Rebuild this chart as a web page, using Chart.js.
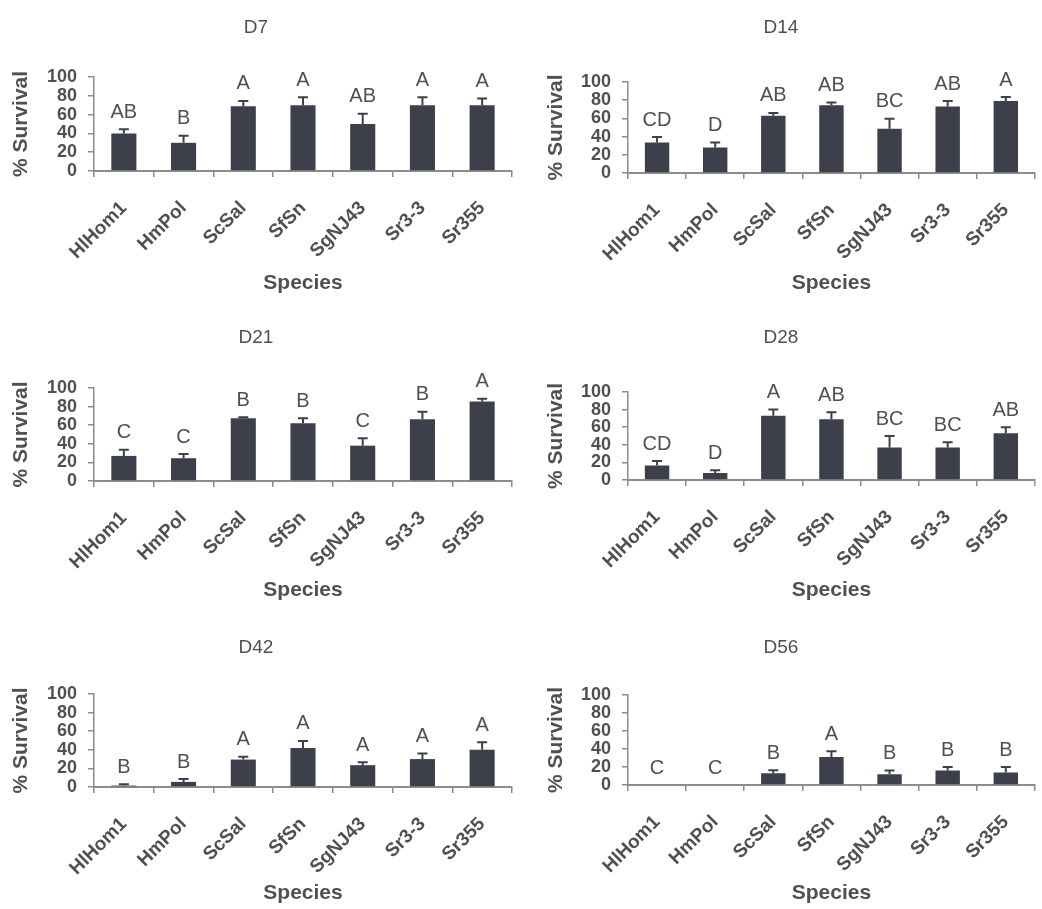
<!DOCTYPE html>
<html>
<head>
<meta charset="utf-8">
<title>% Survival by species</title>
<script src="https://cdn.jsdelivr.net/npm/chart.js@4.4.1/dist/chart.umd.min.js"></script>
<style>
    body { margin: 0; background: #fff; }
    #wrap { position: relative; width: 1042px; height: 909px; overflow: hidden; }
    #wrap canvas { position: absolute; }
</style>
</head>
<body>
<div id="wrap"></div>
<script>
// data
const species = ['HlHom1', 'HmPol', 'ScSal', 'SfSn', 'SgNJ43', 'Sr3-3', 'Sr355'];
const yTicks = [0, 20, 40, 60, 80, 100];
const days = ['D7', 'D14', 'D21', 'D28', 'D42', 'D56'];

const d7Mean = [40, 30, 69, 70, 50, 70, 70];
const d7Err = [4.5, 7.5, 5.5, 8.5, 11, 8.5, 7];
const d7Groups = ['AB', 'B', 'A', 'A', 'AB', 'A', 'A'];

const d14Mean = [33.5, 28, 63, 74.5, 48.5, 73, 79];
const d14Err = [6, 5.5, 3, 3, 11, 6, 4.5];
const d14Groups = ['CD', 'D', 'AB', 'AB', 'BC', 'AB', 'A'];

const d21Mean = [27, 24.5, 67.5, 62, 38, 66.5, 85.5];
const d21Err = [6.5, 4.5, 1, 5.5, 8, 8, 3];
const d21Groups = ['C', 'C', 'B', 'B', 'C', 'B', 'A'];

const d28Mean = [16.5, 8, 73, 69, 37, 37, 53];
const d28Err = [5, 3, 7, 8, 13, 6, 7];
const d28Groups = ['CD', 'D', 'A', 'AB', 'BC', 'BC', 'AB'];

const d42Mean = [1.5, 5.5, 29.5, 42, 23.5, 30, 40];
const d42Err = [1.5, 3, 3, 7.5, 3, 6, 8];
const d42Groups = ['B', 'B', 'A', 'A', 'A', 'A', 'A'];

const d56Mean = [0, 0, 13, 31, 12, 16, 14];
const d56Err = [0, 0, 3.5, 6.5, 4, 4, 6];
const d56Groups = ['C', 'C', 'B', 'A', 'B', 'B', 'B'];

const means = [d7Mean, d14Mean, d21Mean, d28Mean, d42Mean, d56Mean];
const errs = [d7Err, d14Err, d21Err, d28Err, d42Err, d56Err];
const groups = [d7Groups, d14Groups, d21Groups, d28Groups, d42Groups, d56Groups];

// panel placement on the page (pixels)
const panels = [
    { left: 0,   top: 0,   w: 521, h: 310, areaTop: 77, areaBottom: 171, yWidth: 94,  padRight: 9, yTitlePad: 9,  xTitlePad: 14 },
    { left: 521, top: 0,   w: 521, h: 310, areaTop: 82, areaBottom: 173, yWidth: 107, padRight: 1, yTitlePad: 23, xTitlePad: 14 },
    { left: 0,   top: 310, w: 521, h: 310, areaTop: 78, areaBottom: 171, yWidth: 94,  padRight: 9, yTitlePad: 9,  xTitlePad: 17 },
    { left: 521, top: 310, w: 521, h: 310, areaTop: 82, areaBottom: 170, yWidth: 107, padRight: 1, yTitlePad: 23, xTitlePad: 17 },
    { left: 0,   top: 620, w: 521, h: 289, areaTop: 74, areaBottom: 167, yWidth: 94,  padRight: 9, yTitlePad: 9,  xTitlePad: 3 },
    { left: 521, top: 620, w: 521, h: 289, areaTop: 75, areaBottom: 165, yWidth: 107, padRight: 1, yTitlePad: 23, xTitlePad: 3 }
];

const textColor = '#505050';
const axisColor = '#8c8c8c';
const barColor = '#3d404b';
const fontFamily = 'Arial, "Liberation Sans", sans-serif';

// upward error bars plus the letter groups above them
const errorBarPlugin = {
    id: 'errorBars',
    afterDatasetsDraw(chart, args, opts) {
        const ctx = chart.ctx;
        const x = chart.scales.x;
        const y = chart.scales.y;
        const data = chart.data.datasets[0].data;
        ctx.save();
        data.forEach((v, i) => {
            const px = x.getPixelForValue(i);
            const top = y.getPixelForValue(v + opts.err[i]);
            if (opts.err[i] > 0) {
                ctx.strokeStyle = barColor;
                ctx.lineWidth = 2;
                ctx.beginPath();
                ctx.moveTo(px, y.getPixelForValue(v));
                ctx.lineTo(px, top);
                ctx.moveTo(px - 5, top);
                ctx.lineTo(px + 5, top);
                ctx.stroke();
            }
            ctx.fillStyle = textColor;
            ctx.font = '20px ' + fontFamily;
            ctx.textAlign = 'center';
            ctx.textBaseline = 'bottom';
            ctx.fillText(opts.labels[i], px, top - 7);
        });
        ctx.restore();
    }
};

function makePanel(idx) {
    const box = panels[idx];
    const canvas = document.createElement('canvas');
    canvas.width = box.w;
    canvas.height = box.h;
    canvas.style.left = box.left + 'px';
    canvas.style.top = box.top + 'px';
    canvas.style.width = box.w + 'px';
    canvas.style.height = box.h + 'px';
    document.getElementById('wrap').appendChild(canvas);

    const titleSize = 19;
    const titleLine = titleSize * 1.2;

    new Chart(canvas, {
        type: 'bar',
        data: {
            labels: species,
            datasets: [{
                data: means[idx],
                backgroundColor: barColor,
                borderWidth: 0,
                barPercentage: 0.42,
                categoryPercentage: 1
            }]
        },
        options: {
            responsive: false,
            animation: false,
            devicePixelRatio: 1,
            layout: { padding: { left: 0, right: box.padRight, top: 0, bottom: 0 } },
            plugins: {
                legend: { display: false },
                tooltip: { enabled: false },
                title: {
                    display: true,
                    text: days[idx],
                    color: textColor,
                    font: { family: fontFamily, size: titleSize, weight: 'normal' },
                    padding: { top: 16, bottom: box.areaTop - 16 - titleLine }
                },
                errorBars: { err: errs[idx], labels: groups[idx] }
            },
            scales: {
                x: {
                    afterFit: (s) => { s.height = box.h - box.areaBottom; },
                    grid: { display: true, offset: true, drawOnChartArea: false, tickLength: 6, color: axisColor, lineWidth: 1.5 },
                    border: { color: axisColor, width: 2 },
                    ticks: {
                        autoSkip: false,
                        maxRotation: 45,
                        minRotation: 45,
                        padding: 20,
                        color: textColor,
                        font: { family: fontFamily, size: 19, weight: 'bold' }
                    },
                    title: {
                        display: true,
                        text: 'Species',
                        color: textColor,
                        font: { family: fontFamily, size: 21, weight: 'bold' },
                        padding: { top: 0, bottom: box.xTitlePad }
                    }
                },
                y: {
                    min: 0,
                    max: 100,
                    afterFit: (s) => { s.width = box.yWidth; },
                    afterBuildTicks: (s) => { s.ticks = yTicks.map(v => ({ value: v })); },
                    grid: { display: true, drawOnChartArea: false, tickLength: 6, color: axisColor, lineWidth: 1.5 },
                    border: { color: axisColor, width: 1.5 },
                    ticks: {
                        autoSkip: false,
                        padding: 11,
                        color: textColor,
                        font: { family: fontFamily, size: 18, weight: 'bold' }
                    },
                    title: {
                        display: true,
                        text: '% Survival',
                        color: textColor,
                        font: { family: fontFamily, size: 21, weight: 'bold' },
                        padding: { top: box.yTitlePad, bottom: 0 }
                    }
                }
            }
        },
        plugins: [errorBarPlugin]
    });
}

days.forEach((d, i) => makePanel(i));
</script>
</body>
</html>
